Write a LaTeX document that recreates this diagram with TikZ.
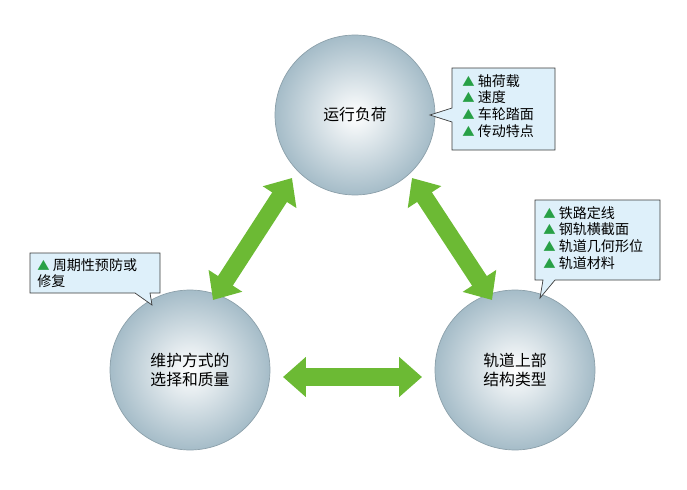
\documentclass[tikz,border=0pt]{standalone}
\usepackage{fontspec}
\setmainfont{Noto Sans CJK SC}
\usetikzlibrary{arrows.meta,positioning}
\definecolor{arrowgreen}{RGB}{108,186,52}
\definecolor{ballrim}{RGB}{165,188,200}
\definecolor{notefill}{RGB}{222,240,250}
\definecolor{noteline}{RGB}{60,60,60}
\definecolor{tri}{RGB}{40,160,70}
\tikzset{
  ball/.style={circle,minimum size=3.2cm,inner color=white,outer color=ballrim,
    draw=ballrim!85!black,line width=0.4pt,align=center,font=\small},
  twoway/.style={line width=10pt,arrowgreen,
    {Triangle[width=22pt,length=13pt]}-{Triangle[width=22pt,length=13pt]}},
  note/.style={fill=notefill,draw=noteline,line width=0.4pt},
  notetext/.style={align=left,font=\footnotesize,inner sep=0pt,anchor=north west}
}
\newcommand{\tick}{{\color{tri}\scriptsize▲}\ }
\begin{document}
\begin{tikzpicture}[x=0.02cm,y=-0.02cm]
\useasboundingbox (0,0) rectangle (687,490);

% balls
\node[ball] (load) at (355,115) {运行负荷};
\node[ball] (care) at (190,370) {维护方式的\\选择和质量};
\node[ball] (track) at (515,370) {轨道上部\\结构类型};

% arrows
\coordinate (a1) at (292,178); \coordinate (a2) at (213,300);
\coordinate (b1) at (412,178); \coordinate (b2) at (492,300);
\coordinate (c1) at (283,377); \coordinate (c2) at (422,377);
\draw[twoway] (a1) -- (a2);
\draw[twoway] (b1) -- (b2);
\draw[twoway] (c1) -- (c2);

% callouts
\draw[note] (452,68) -- (555,68) -- (555,150) -- (452,150) -- (452,122)
  -- (430,115) -- (452,108) -- cycle;
\node[notetext] (n1) at (462,74) {\tick 轴荷载\\\tick 速度\\\tick 车轮踏面\\\tick 传动特点};

\draw[note] (535,200) -- (660,200) -- (660,280) -- (555,280) -- (540,298)
  -- (543,280) -- (535,280) -- cycle;
\node[notetext] (n2) at (543,206) {\tick 铁路定线\\\tick 钢轨横截面\\\tick 轨道几何形位\\\tick 轨道材料};

\draw[note] (30,253) -- (160,253) -- (160,293) -- (150,293) -- (152,305)
  -- (135,293) -- (30,293) -- cycle;
\node[notetext] (n3) at (37,258) {\tick 周期性预防或\\修复};
\end{tikzpicture}
\end{document}
